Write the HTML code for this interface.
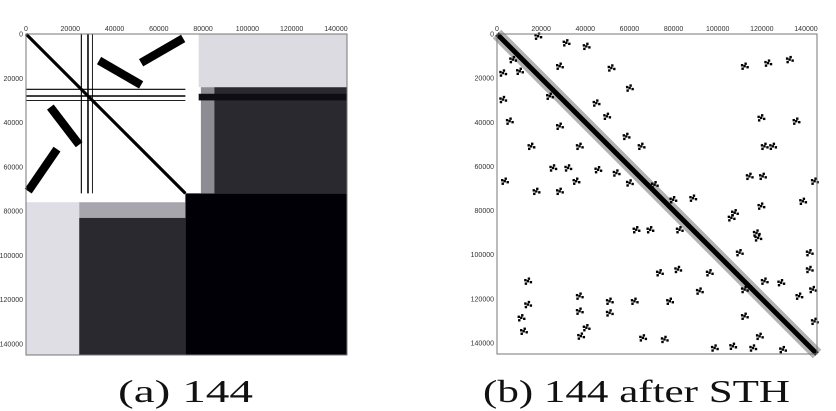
<!DOCTYPE html>
<html><head><meta charset="utf-8">
<style>
html,body{margin:0;padding:0;background:#fff;}
svg{display:block;}
</style></head>
<body>
<svg id="fig" width="836" height="411" viewBox="0 0 836 411" xmlns="http://www.w3.org/2000/svg">
  <g id="left"></g>
  <g id="right"></g>
  <text x="118" y="402" textLength="135" lengthAdjust="spacingAndGlyphs" font-family="'Liberation Serif', serif" font-size="32" fill="#111">(a) 144</text>
  <text x="483" y="402" textLength="307" lengthAdjust="spacingAndGlyphs" font-family="'Liberation Serif', serif" font-size="32" fill="#111">(b) 144 after STH</text>
</svg>
<script>
const NS = 'http://www.w3.org/2000/svg';
const N = 145000;
const ticks = [0, 20000, 40000, 60000, 80000, 100000, 120000, 140000];
const tickLabels = ['0','20000','40000','60000','80000','100000','120000','140000'];

// Left matrix: rectangular regions [x0, y0, x1, y1, density]
const leftBlocks = [
  [72000, 72000, 145000, 145000, 1.0],
  [85000, 24000, 145000, 72000, 0.84],
  [79000, 24000, 85000, 72000, 0.45],
  [78000, 0, 145000, 24000, 0.14],
  [24000, 83000, 72000, 145000, 0.84],
  [24000, 76000, 72000, 83000, 0.35],
  [0, 76000, 24000, 145000, 0.13],
  [78000, 27000, 145000, 30000, 0.95]
];
// Left matrix: line features [x0, y0, x1, y1, width(data units)]
const leftLines = [
  [0, 0, 72000, 72000, 1400],
  [30000, 30000, 72000, 72000, 900],
  [0, 25000, 72000, 25000, 500],
  [0, 28000, 72000, 28000, 700],
  [0, 30000, 72000, 30000, 400],
  [25000, 0, 25000, 72000, 500],
  [28000, 0, 28000, 72000, 700],
  [30000, 0, 30000, 72000, 400],
  [33000, 12000, 52000, 23000, 3800],
  [52000, 13000, 71000, 2000, 3800],
  [11000, 33000, 24000, 50000, 3800],
  [1000, 71000, 14000, 52000, 3800]
];

// Right matrix: off-diagonal cluster centres (column, row)
const clusterX = [18600,7200,10300,28400,31400,40500,51800,60100,2700,2700,5700,15500,25400,32200,45000,49800,58600,65400,37400,28400,23900,45800,54100,60100,3500,17800,28400,35900,112200,122800,132600,135600,119700,125000,121200,114400,120400,143900,138600,119700,107700,106200,117600,118300,109900,141600,141600,96300,82000,73700,91800,78300,71400,79800,88800,82700,69400,63100,14000,14000,11000,12100,37400,37400,40500,38000,51000,51000,62300,66100,75900,112200,112200,121200,128700,136900,143100,119000,116000,129500,143900,98600,106900];
const clusterY = [1000,11600,16900,14600,4000,5600,15400,24500,17700,29700,39500,50900,60700,60700,31300,37300,46400,50900,50900,41800,28200,61500,63000,67500,66700,71300,71300,66700,14600,13200,11600,39500,38000,50900,50900,64500,64500,66700,75800,78000,81000,83300,90200,92400,99100,99100,106700,108200,106700,108200,116500,121100,68300,75100,74400,88700,88700,88700,112000,122600,128600,134700,118800,125600,133100,136900,121100,126400,121100,137700,138400,127900,115800,112000,112700,118800,115800,137000,142300,143000,130200,142300,141500];

function el(tag, attrs, parent){ const e=document.createElementNS(NS,tag); for(const k in attrs) e.setAttribute(k,attrs[k]); parent.appendChild(e); return e; }

function axes(g, x0, y0, size, prefix){
  const s = v => v*size/N;
  for(let i=0;i<ticks.length;i++){
    const tx = el('text',{x:x0+s(ticks[i]), y:y0-3, 'font-size':7, 'text-anchor':'middle', fill:'#333','font-family':"'Liberation Sans',sans-serif"},g);
    tx.textContent = tickLabels[i];
    
    
    const ty = el('text',{x:x0-3, y:y0+s(ticks[i])+2.5, 'font-size':7, 'text-anchor':'end', fill:'#333','font-family':"'Liberation Sans',sans-serif"},g);
    ty.textContent = tickLabels[i];
    
    
  }
  const fr = el('rect',{x:x0, y:y0, width:size, height:size, fill:'none', stroke:'#777','stroke-width':1},g);
  
  
}

// Left plot
(function(){
  const g = document.getElementById('left');
  const x0=26, y0=34, size=321, s=v=>v*size/N;
  for(const b of leftBlocks){
    const c = Math.round(255*(1-b[4]));
    const r = el('rect',{x:x0+s(b[0]), y:y0+s(b[1]), width:s(b[2]-b[0]), height:s(b[3]-b[1]), fill:`rgb(${c},${c},${Math.min(255,c+6)})`},g);
    
    
  }
  for(const l of leftLines){
    const ln = el('line',{x1:x0+s(l[0]), y1:y0+s(l[1]), x2:x0+s(l[2]), y2:y0+s(l[3]), stroke:'#000','stroke-width':s(l[4])},g);
    
    
  }
  axes(g, x0, y0, size, 'left');
})();

// Right plot
(function(){
  const g = document.getElementById('right');
  const x0=497, y0=34, size=320, s=v=>v*size/N;
  const band = el('line',{x1:x0, y1:y0, x2:x0+size, y2:y0+size, stroke:'#555','stroke-width':12,'stroke-opacity':0.45},g);
  
  
  const diag = el('line',{x1:x0, y1:y0, x2:x0+size, y2:y0+size, stroke:'#000','stroke-width':5},g);
  
  
  const offs = [[0,0],[3,1],[-2,2.5],[1,-2.5],[-2.5,-1]];
  for(let i=0;i<clusterX.length;i++){
    const cx = x0+s(clusterX[i]), cy = y0+s(clusterY[i]);
    const cg = el('g',{},g);
    
    
    for(const o of offs){
      el('rect',{x:cx+o[0]-1.2, y:cy+o[1]-1.2, width:2.4, height:2.4, fill:'#000'},cg);
    }
  }
  axes(g, x0, y0, size, 'right');
})();
</script>
</body></html>
